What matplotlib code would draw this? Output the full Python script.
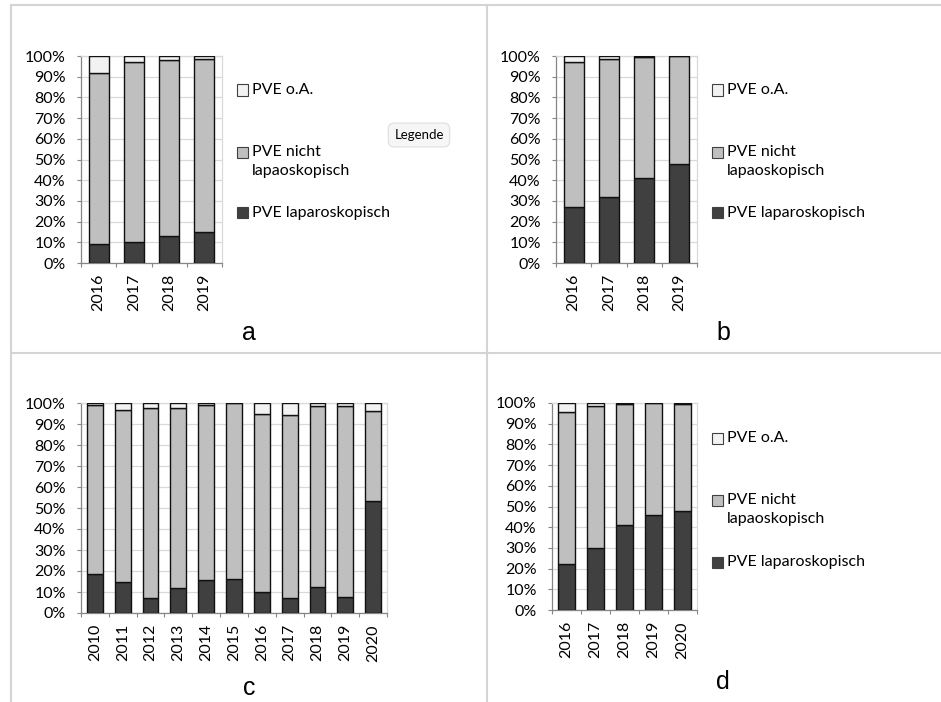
import matplotlib.pyplot as plt
import matplotlib.patches as mpatches
import numpy as np

plt.rcParams['font.family'] = ['Lato', 'DejaVu Sans']

# Data (percent): PVE laparoskopisch, PVE nicht lapaoskopisch, PVE o.A.
years_a = ['2016', '2017', '2018', '2019']
lap_a = [9, 10, 13, 15]
nicht_a = [83, 87, 85, 83.5]
oa_a = [8, 3, 2, 1.5]

years_b = ['2016', '2017', '2018', '2019']
lap_b = [27, 32, 41, 48]
nicht_b = [70, 66.5, 58.5, 52]
oa_b = [3, 1.5, 0.5, 0]

years_c = ['2010', '2011', '2012', '2013', '2014', '2015', '2016', '2017', '2018', '2019', '2020']
lap_c = [18.5, 15, 7, 12, 15.5, 16, 10, 7, 12.5, 7.5, 53.5]
nicht_c = [80.5, 81.5, 90.5, 85.5, 83.5, 84, 85, 87.5, 86, 91, 42.5]
oa_c = [1, 3.5, 2.5, 2.5, 1, 0, 5, 5.5, 1.5, 1.5, 4]

years_d = ['2016', '2017', '2018', '2019', '2020']
lap_d = [22, 30, 41, 46, 48]
nicht_d = [73.5, 68.5, 58.7, 54, 51.7]
oa_d = [4.5, 1.5, 0.3, 0, 0.3]

series_labels = ['PVE o.A.', 'PVE nicht\nlapaoskopisch', 'PVE laparoskopisch']
colors = {'lap': '#404040', 'nicht': '#bfbfbf', 'oa': '#f2f2f2'}
panel_letters = ['a', 'b', 'c', 'd']

W, H = 941, 702
fig = plt.figure(figsize=(W / 100, H / 100), dpi=100)


def px_axes(left, top, right, bottom):
    return fig.add_axes([left / W, 1 - bottom / H, (right - left) / W, (bottom - top) / H])


def draw_panel(ax, years, lap, nicht, oa):
    x = np.arange(len(years))
    lap = np.array(lap)
    nicht = np.array(nicht)
    oa = np.array(oa)
    kw = dict(width=0.57, edgecolor='#111111', linewidth=1.0, zorder=3)
    ax.bar(x, lap, color=colors['lap'], **kw)
    ax.bar(x, nicht, bottom=lap, color=colors['nicht'], **kw)
    ax.bar(x, oa, bottom=lap + nicht, color=colors['oa'], **kw)
    ax.set_xlim(-0.5, len(years) - 0.5)
    ax.set_ylim(0, 100)
    ax.set_yticks(np.arange(0, 101, 10))
    ax.set_yticklabels([f'{v}%' for v in range(0, 101, 10)], fontsize=11.5)
    ax.yaxis.grid(True, color='#d9d9d9', linewidth=0.9, zorder=0)
    ax.set_axisbelow(True)
    ax.set_xticks(np.arange(-0.5, len(years)), minor=False)
    ax.set_xticklabels([])
    ax.set_xticks(x, minor=True)
    ax.set_xticklabels(years, minor=True, rotation=90, fontsize=11.5)
    ax.tick_params(axis='x', which='minor', length=0, pad=8)
    ax.tick_params(axis='x', which='major', length=3, color='#868686', direction='out')
    ax.tick_params(axis='y', length=3, color='#868686', direction='out', pad=8)
    for side in ['top', 'right']:
        ax.spines[side].set_color('#d9d9d9')
    for side in ['left', 'bottom']:
        ax.spines[side].set_color('#868686')
    for s in ax.spines.values():
        s.set_linewidth(0.9)


def draw_legend(x_patch, y_rows):
    # y_rows: pixel y of first text line for each entry (top to bottom)
    fill = [colors['oa'], colors['nicht'], colors['lap']]
    for lbl, fc, y in zip(series_labels, fill, y_rows):
        fig.patches.append(mpatches.Rectangle(((x_patch) / W, 1 - (y + 5.5) / H), 11 / W, 11 / H,
                                              transform=fig.transFigure, facecolor=fc,
                                              edgecolor='#404040', linewidth=0.8))
        fig.text((x_patch + 15) / W, 1 - (y - 7) / H, lbl, fontsize=11.5, va='top', ha='left',
                 linespacing=1.5)


ax_a = px_axes(81, 56, 222, 263)
draw_panel(ax_a, years_a, lap_a, nicht_a, oa_a)
ax_b = px_axes(556, 56, 697, 263)
draw_panel(ax_b, years_b, lap_b, nicht_b, oa_b)
ax_c = px_axes(81, 403, 387, 613)
draw_panel(ax_c, years_c, lap_c, nicht_c, oa_c)
ax_d = px_axes(552, 403, 697, 610)
draw_panel(ax_d, years_d, lap_d, nicht_d, oa_d)

draw_legend(237, [90, 152, 213])
draw_legend(712, [90, 152, 213])
draw_legend(712, [438, 500, 562])

# panel letters
for letter, (px, py) in zip(panel_letters, [(249, 333), (723, 333), (249, 688), (723, 682)]):
    fig.text(px / W, 1 - py / H, letter, fontsize=18, ha='center', va='center',
             family='Liberation Sans')

# tooltip-like "Legende" label
fig.text(419 / W, 1 - 135 / H, 'Legende', fontsize=9.5, ha='center', va='center',
         bbox=dict(boxstyle='round,pad=0.45', facecolor='#f6f6f6', edgecolor='#dedede', linewidth=0.8))

# layout separator lines
line_kw = dict(color='#d4d4d4', linewidth=1.5, transform=fig.transFigure)
fig.add_artist(plt.Line2D([11 / W, 1], [1 - 5 / H, 1 - 5 / H], **line_kw))
fig.add_artist(plt.Line2D([11 / W, 11 / W], [0, 1 - 5 / H], **line_kw))
fig.add_artist(plt.Line2D([486.5 / W, 486.5 / W], [0, 1 - 5 / H], **line_kw))
fig.add_artist(plt.Line2D([11 / W, 1], [1 - 353 / H, 1 - 353 / H], **line_kw))

fig.savefig('out.png', dpi=100)
